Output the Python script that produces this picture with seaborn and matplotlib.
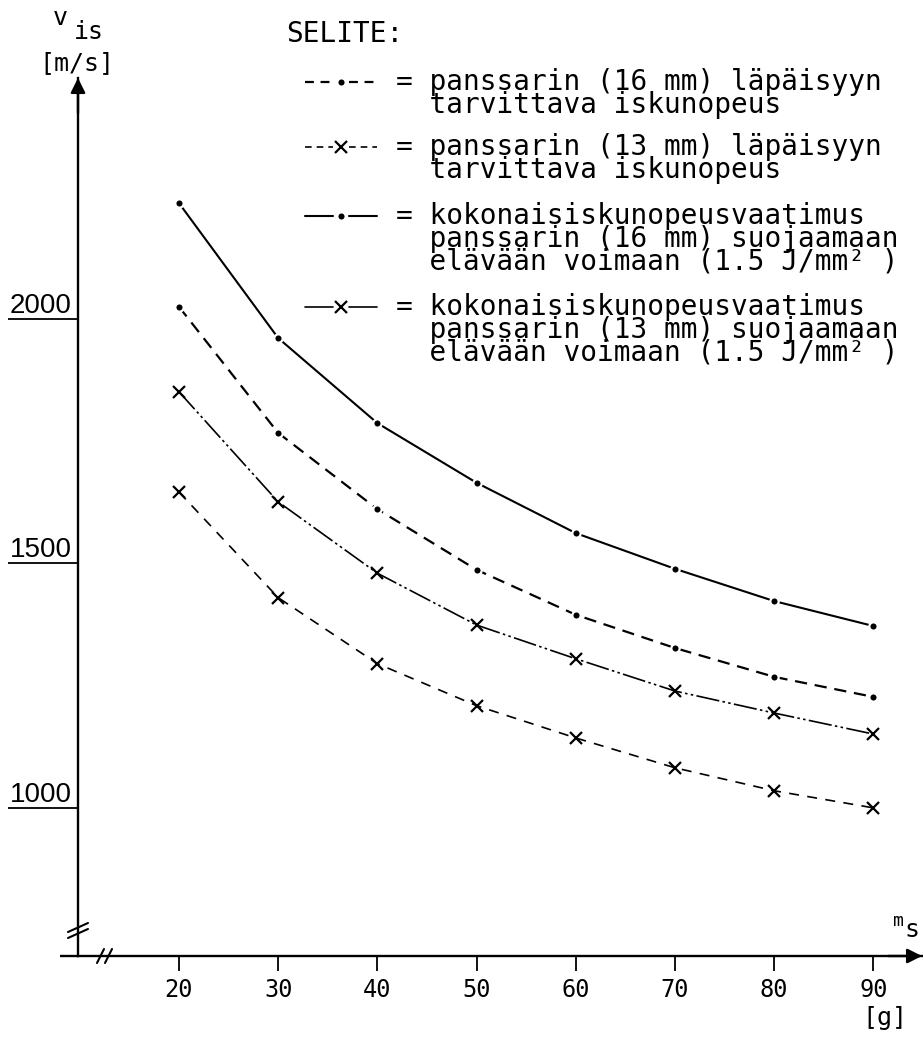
import matplotlib
matplotlib.use("Agg")
import matplotlib.pyplot as plt
from matplotlib.lines import Line2D
import seaborn as sns

# ---------------- data ----------------
mass_g = [20, 30, 40, 50, 60, 70, 80, 90]
v_pen_16mm = [2025, 1767, 1611, 1487, 1395, 1327, 1268, 1227]   # --•--
v_pen_13mm = [1646, 1430, 1295, 1209, 1143, 1082, 1035, 1000]   # --x--
v_tot_16mm = [2237, 1961, 1787, 1665, 1562, 1489, 1423, 1372]   # —•—
v_tot_13mm = [1851, 1626, 1480, 1374, 1305, 1239, 1194, 1151]   # —x—

x_ticks = [20, 30, 40, 50, 60, 70, 80, 90]
x_tick_labels = ["20", "30", "40", "50", "60", "70", "80", "90"]
y_ticks = [1000, 1500, 2000]
y_tick_labels = ["1000", "1500", "2000"]

legend_title = "SELITE:"
legend_lines = [
    ["panssarin (16 mm) läpäisyyn", "tarvittava iskunopeus"],
    ["panssarin (13 mm) läpäisyyn", "tarvittava iskunopeus"],
    ["kokonaisiskunopeusvaatimus", "panssarin (16 mm) suojaamaan", "elävään voimaan (1.5 J/mm² )"],
    ["kokonaisiskunopeusvaatimus", "panssarin (13 mm) suojaamaan", "elävään voimaan (1.5 J/mm² )"],
]

# ---------------- styles ----------------
dot = dict(marker="o", markersize=6, markerfacecolor="black",
           markeredgecolor="white", markeredgewidth=1.6)
cross = dict(marker="x", markersize=8, markeredgecolor="black",
             markeredgewidth=1.6)
styles = {
    "pen16": dict(linestyle=(0, (5.5, 3.5)), linewidth=1.6, **dot),
    "pen13": dict(linestyle=(0, (6, 5)), linewidth=1.2, **cross),
    "tot16": dict(linestyle="-", linewidth=1.5, **dot),
    "tot13": dict(linestyle=(0, (14, 2, 1.5, 2, 1.5, 2)), linewidth=1.2, **cross),
}
# how the short legend samples are drawn ("--•--", "--x--", "—•—", "—x—")
legend_sample_ls = {"pen16": (0, (4, 3)), "pen13": (0, (4, 3)),
                    "tot16": "-", "tot13": "-"}
series = [("pen16", v_pen_16mm), ("pen13", v_pen_13mm),
          ("tot16", v_tot_16mm), ("tot13", v_tot_13mm)]

sns.set_theme(style="white")
MONO = ["DejaVu Sans Mono", "DejaVu Sans"]
plt.rcParams["font.family"] = MONO
for k in ["text.color", "axes.labelcolor", "xtick.color", "ytick.color", "axes.edgecolor"]:
    plt.rcParams[k] = "black"

W, H = 923, 1037
fig = plt.figure(figsize=(W / 100, H / 100), dpi=100)
fig.patch.set_facecolor("white")

# axes frame in pixels: left 78, right 922, top 78, bottom 956
ax_l, ax_r, ax_t, ax_b = 78, 922, 78, 956
ax = fig.add_axes([ax_l / W, (H - ax_b) / H, (ax_r - ax_l) / W, (ax_b - ax_t) / H])
ax.set_facecolor("white")

for key, vals in series:
    sns.lineplot(x=mass_g, y=vals, ax=ax, color="black", **styles[key])

ax.set_xlim(9.82, 94.9)
ax.set_ylim(697, 2493)
ax.set_xlabel("")
ax.set_ylabel("")

for s in ["top", "right"]:
    ax.spines[s].set_visible(False)
for s in ["left", "bottom"]:
    ax.spines[s].set_linewidth(1.7)
    ax.spines[s].set_color("black")

# x ticks
ax.set_xticks(x_ticks)
ax.set_xticklabels(x_tick_labels, fontfamily=MONO, fontsize=17, color="black")
ax.tick_params(axis="x", direction="out", length=10.8, width=1.3, pad=5,
               color="black", bottom=True)
# y ticks: long underline ticks with labels sitting above them
ax.set_yticks(y_ticks)
ax.set_yticklabels(y_tick_labels, fontfamily=["Liberation Sans", "DejaVu Sans"],
                   fontsize=20, color="black")
ax.tick_params(axis="y", direction="out", length=50.4, width=1.3, pad=-46.0,
               color="black", left=True)
for lab in ax.get_yticklabels():
    lab.set_verticalalignment("bottom")
    lab.set_horizontalalignment("right")

# axis arrows
arr = dict(arrowstyle="-|>", color="black", lw=1.7, mutation_scale=22,
           shrinkA=0, shrinkB=0)
ax.annotate("", xy=(1, 0), xytext=(0.96, 0), xycoords="axes fraction",
            textcoords="axes fraction", arrowprops=arr)
ax.annotate("", xy=(0, 1), xytext=(0, 0.96), xycoords="axes fraction",
            textcoords="axes fraction", arrowprops=arr)

AW, AH = ax_r - ax_l, ax_b - ax_t
def apx(dx, dy):
    """pixel offset from axes origin -> axes fraction"""
    return dx / AW, dy / AH

# x-axis continues a little left of the y axis
x0, _ = apx(-18, 0)
ax.plot([x0, 0], [0, 0], transform=ax.transAxes, color="black", lw=1.7,
        clip_on=False, solid_capstyle="butt")

# axis break marks
for (a, b) in [((-10, 18), (10, 27)), ((-10, 24), (10, 33))]:
    p, q = apx(*a), apx(*b)
    ax.plot([p[0], q[0]], [p[1], q[1]], transform=ax.transAxes, color="black",
            lw=1.5, clip_on=False)
for (a, b) in [((19, -7), (26, 7)), ((27, -7), (34, 7))]:
    p, q = apx(*a), apx(*b)
    ax.plot([p[0], q[0]], [p[1], q[1]], transform=ax.transAxes, color="black",
            lw=1.5, clip_on=False)

def fpx(x, y):
    return x / W, 1 - y / H

# axis titles
fig.text(*fpx(60, 25), "v", fontfamily=MONO, fontsize=18, ha="center", va="baseline")
fig.text(*fpx(89, 39), "is", fontfamily=MONO, fontsize=18, ha="center", va="baseline")
fig.text(*fpx(77, 70), "[m/s]", fontfamily=MONO, fontsize=18, ha="center", va="baseline")
fig.text(*fpx(898, 926), "m", fontfamily=MONO, fontsize=13, ha="center", va="baseline")
fig.text(*fpx(912, 937), "s", fontfamily=MONO, fontsize=18, ha="center", va="baseline")
fig.text(*fpx(885, 1025), "[g]", fontfamily=MONO, fontsize=18, ha="center", va="baseline")

# legend (SELITE)
FS = 20
EM = FS * 100 / 72           # em size in pixels
PITCH = 22.5                 # baseline-to-baseline distance in pixels
LS = (PITCH - 0.236 * EM) / (0.76 * EM)
fig.text(*fpx(286, 42), legend_title, fontfamily=MONO, fontsize=FS, ha="left", va="baseline")
legend_keys = ["pen16", "pen13", "tot16", "tot13"]
first_baselines = [89, 154, 223, 314]
for key, lines, y0 in zip(legend_keys, legend_lines, first_baselines):
    ymid = 1 - (y0 - 7) / H
    st = styles[key]
    line_kw = dict(transform=fig.transFigure, color="black",
                   linewidth=st["linewidth"], linestyle=legend_sample_ls[key])
    for xa, xb in [(305, 333), (349, 377)]:
        fig.add_artist(Line2D([xa / W, xb / W], [ymid, ymid], **line_kw))
    mk = {k: v for k, v in st.items() if k.startswith("marker")}
    fig.add_artist(Line2D([341 / W], [ymid], transform=fig.transFigure,
                          linestyle="none", color="black", **mk))
    block = "\n".join(["= " + lines[0]] + ["  " + t for t in lines[1:]])
    fig.text(*fpx(396, y0 - 0.76 * EM), block, fontfamily=MONO, fontsize=FS,
             ha="left", va="top", linespacing=LS)

fig.savefig("out.png", dpi=100, facecolor="white")
